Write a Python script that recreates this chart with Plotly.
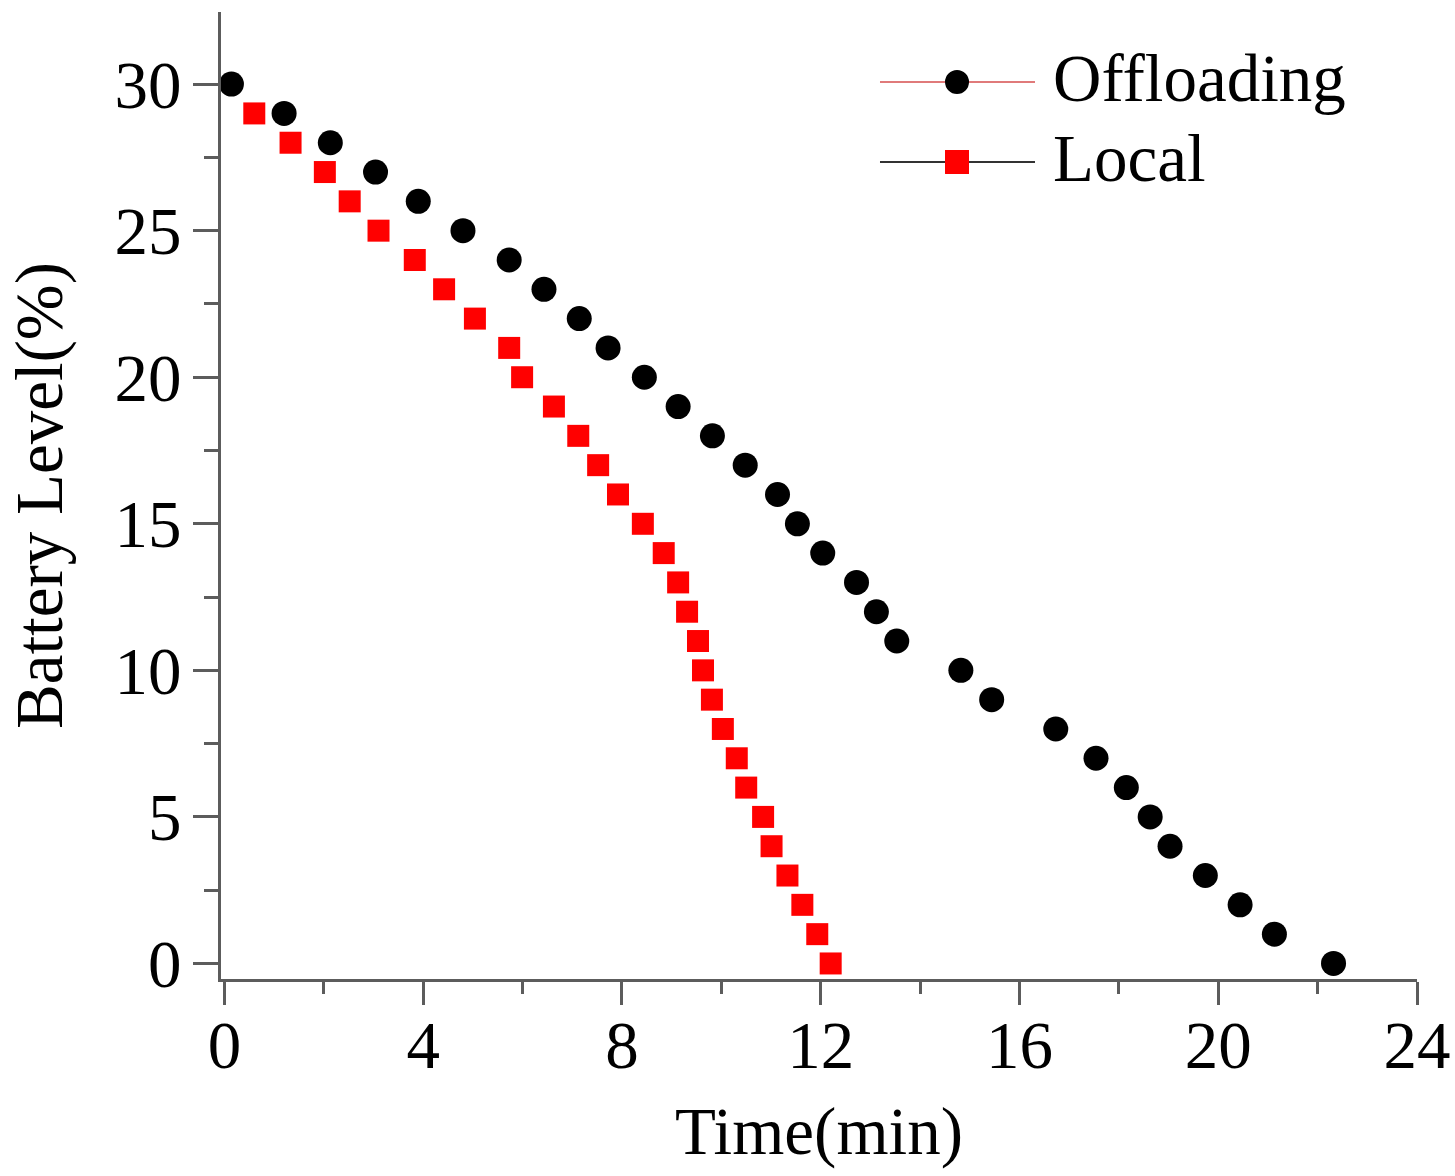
import plotly.graph_objects as go

# Battery level (%) values
levels_off = [30, 29, 28, 27, 26, 25, 24, 23, 22, 21, 20, 19, 18, 17, 16, 15,
              14, 13, 12, 11, 10, 9, 8, 7, 6, 5, 4, 3, 2, 1, 0]
time_off = [0.14, 1.2, 2.13, 3.04, 3.9, 4.8, 5.73, 6.43, 7.14, 7.72, 8.45, 9.13,
            9.82, 10.48, 11.13, 11.53, 12.04, 12.72, 13.12, 13.53, 14.82, 15.44,
            16.73, 17.54, 18.15, 18.63, 19.03, 19.74, 20.44, 21.13, 22.32]

levels_loc = [29, 28, 27, 26, 25, 24, 23, 22, 21, 20, 19, 18, 17, 16, 15,
              14, 13, 12, 11, 10, 9, 8, 7, 6, 5, 4, 3, 2, 1, 0]
time_loc = [0.6, 1.33, 2.02, 2.52, 3.1, 3.83, 4.42, 5.04, 5.73, 5.99, 6.63,
            7.12, 7.52, 7.92, 8.42, 8.84, 9.13, 9.31, 9.53, 9.63, 9.81, 10.03,
            10.31, 10.5, 10.84, 11.01, 11.33, 11.63, 11.93, 12.2]

x_ticks = [0, 4, 8, 12, 16, 20, 24]
y_ticks = [0, 5, 10, 15, 20, 25, 30]

series_names = ["Offloading", "Local"]

FONT = "Liberation Serif, Times New Roman, serif"
AX = "#5c5c5c"

fig = go.Figure()

fig.add_trace(go.Scatter(x=time_loc, y=levels_loc, mode="markers", name="Local",
                         showlegend=False,
                         marker=dict(symbol="square", size=22, color="#ff0000")))
fig.add_trace(go.Scatter(x=time_off, y=levels_off, mode="markers", name="Offloading",
                         showlegend=False,
                         marker=dict(symbol="circle", size=25, color="#000000")))

# hand-drawn legend (paper coordinates)
L_X0, L_X1, L_XM, L_XT = 0.551, 0.6806, 0.6154, 0.6940
rows = [0.9276, 0.8449]
leg_line_colors = ["#e07a7a", "#333333"]
shapes = []
for i, name in enumerate(series_names):
    yy = rows[i]
    shapes.append(dict(type="line", xref="paper", yref="paper", x0=L_X0, x1=L_X1,
                       y0=yy, y1=yy, line=dict(color=leg_line_colors[i], width=2)))
    if name == "Offloading":
        shapes.append(dict(type="circle", xref="paper", yref="paper",
                           xsizemode="pixel", ysizemode="pixel", xanchor=L_XM, yanchor=yy,
                           x0=-12, x1=12, y0=-12, y1=12,
                           fillcolor="#000000", line=dict(width=0)))
    else:
        shapes.append(dict(type="rect", xref="paper", yref="paper",
                           xsizemode="pixel", ysizemode="pixel", xanchor=L_XM, yanchor=yy,
                           x0=-12, x1=12, y0=-12, y1=12,
                           fillcolor="#ff0000", line=dict(width=0)))

annotations = [dict(text=n, xref="paper", yref="paper", x=L_XT, y=rows[i] + 0.004,
                    xanchor="left", yanchor="middle", showarrow=False,
                    font=dict(family=FONT, size=67, color="black"))
               for i, n in enumerate(series_names)]

fig.update_layout(
    width=1455, height=1176,
    margin=dict(l=221, r=38, t=12, b=197),
    paper_bgcolor="white", plot_bgcolor="white",
    font=dict(family=FONT, size=67, color="black"),
    showlegend=False,
    shapes=shapes,
    annotations=annotations,
)

fig.update_xaxes(
    range=[-0.07, 24], tickvals=x_ticks, ticktext=[str(v) for v in x_ticks],
    showgrid=False, zeroline=False, showline=True, linecolor=AX, linewidth=3,
    ticks="outside", ticklen=23, tickwidth=3, tickcolor=AX, automargin=False,
    ticklabelstandoff=-17,
    minor=dict(dtick=2, ticks="outside", ticklen=12, tickwidth=3, tickcolor=AX, showgrid=False),
    tickfont=dict(family=FONT, size=67, color="black"),
    title=dict(text="Time(min)", font=dict(family=FONT, size=67, color="black"), standoff=26),
)
fig.update_yaxes(
    range=[-0.53, 32.46], tickvals=y_ticks, ticktext=[str(v) for v in y_ticks],
    showgrid=False, zeroline=False, showline=True, linecolor=AX, linewidth=3,
    ticks="outside", ticklen=25, tickwidth=3, tickcolor=AX, automargin=False,
    ticklabelstandoff=-2,
    minor=dict(dtick=2.5, ticks="outside", ticklen=14, tickwidth=3, tickcolor=AX, showgrid=False),
    tickfont=dict(family=FONT, size=67, color="black"),
    title=dict(text="Battery Level(%)", font=dict(family=FONT, size=67, color="black"), standoff=31),
)

fig.write_html("out.html", config={"displayModeBar": False},
               post_script="document.body.style.margin='0';")
